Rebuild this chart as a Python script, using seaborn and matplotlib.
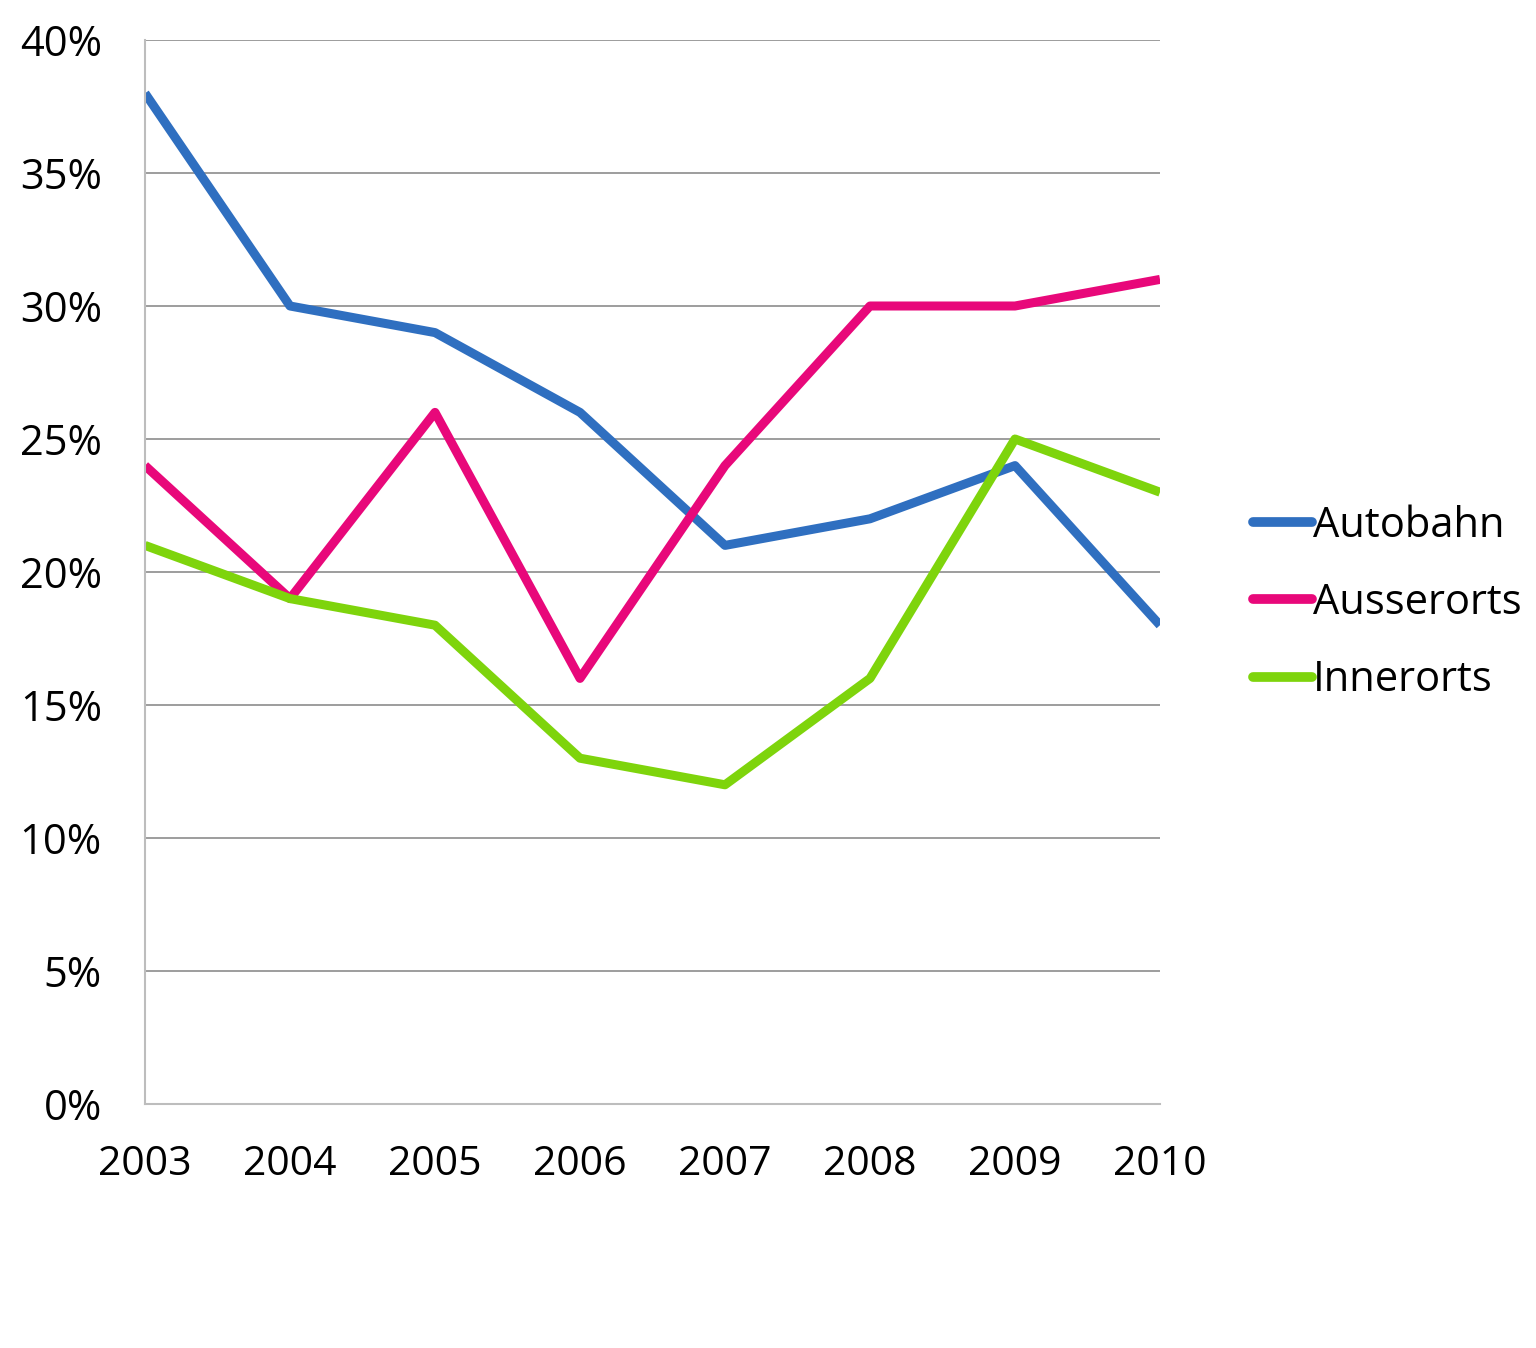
import matplotlib
matplotlib.use("Agg")
import matplotlib.pyplot as plt
import seaborn as sns
import pandas as pd
from matplotlib.ticker import FuncFormatter

years = [2003, 2004, 2005, 2006, 2007, 2008, 2009, 2010]
autobahn = [38, 30, 29, 26, 21, 22, 24, 18]
ausserorts = [24, 19, 26, 16, 24, 30, 30, 31]
innerorts = [21, 19, 18, 13, 12, 16, 25, 23]
series_names = ["Autobahn", "Ausserorts", "Innerorts"]
colors = ["#2F6FC0", "#E8087A", "#7ED40C"]

df = pd.DataFrame({
    "Jahr": years * 3,
    "Wert": autobahn + ausserorts + innerorts,
    "Serie": [series_names[0]] * 8 + [series_names[1]] * 8 + [series_names[2]] * 8,
})

sns.set_theme(style="white")
plt.rcParams["font.family"] = ["Open Sans", "DejaVu Sans"]
plt.rcParams["text.color"] = "black"

fig = plt.figure(figsize=(15.36, 13.48), dpi=100)
ax = fig.add_axes([145 / 1536, 1 - 1104 / 1348, (1160 - 145) / 1536, (1104 - 40) / 1348])

sns.lineplot(data=df, x="Jahr", y="Wert", hue="Serie", palette=colors,
             hue_order=series_names, linewidth=6.5, ax=ax, legend=True)
for ln in ax.get_lines():
    ln.set_solid_capstyle("butt")

ax.set_xlim(2003, 2010)
ax.set_ylim(0, 40)
ax.set_xticks(years)
ax.set_yticks(range(0, 41, 5))
ax.yaxis.set_major_formatter(FuncFormatter(lambda v, p: f"{int(v)}%"))
ax.set_xlabel("")
ax.set_ylabel("")
ax.grid(axis="y", color="#8C8C8C", linewidth=1.2)
ax.set_axisbelow(True)
for s in ["top", "right"]:
    ax.spines[s].set_visible(False)
for s in ["left", "bottom"]:
    ax.spines[s].set_color("#BDBDBD")
    ax.spines[s].set_linewidth(1.5)
ax.tick_params(axis="both", which="major", length=11, width=1.5, color="#9A9A9A",
               labelcolor="black", direction="out")
ax.tick_params(axis="x", pad=18, labelsize=29.5)
ax.tick_params(axis="y", pad=20, labelsize=30)
for lab in ax.get_yticklabels():
    lab.set_verticalalignment("center_baseline")

handles, labels = ax.get_legend_handles_labels()
ax.legend_.remove()
leg = fig.legend(handles, labels, loc="center left", bbox_to_anchor=(1253 / 1536, 1 - 603 / 1348),
                 frameon=False, fontsize=30, handlelength=1.42, handletextpad=0.02,
                 labelspacing=0.85, borderpad=0, borderaxespad=0, labelcolor="black")
for h in leg.get_lines():
    h.set_linewidth(7)
    h.set_solid_capstyle("round")

fig.savefig("out.png", dpi=100, facecolor="white")
